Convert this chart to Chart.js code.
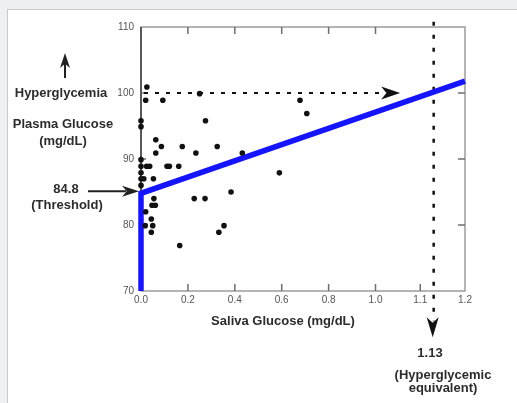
<!DOCTYPE html>
<html>
<head>
<meta charset="utf-8">
<script src="https://cdn.jsdelivr.net/npm/chart.js@4.4.1/dist/chart.umd.min.js"></script>
<style>
  html, body { margin: 0; padding: 0; background: #eff0f2; overflow: hidden; }
  #panel { position: absolute; left: 7px; top: 9px; width: 520px; height: 400px; background: #fff; border: 1px solid #c8c8c8; }
  #wrap { position: absolute; left: 0; top: 0; width: 517px; height: 403px; }
</style>
</head>
<body>
<div id="panel"></div>
<div id="wrap"><canvas id="c" width="517" height="403"></canvas></div>
<script>
// values
var salivaGlucose = [0.025, 0.02, 0.093, 0.25, 0.0, 0.0, 0.275, 0.063, 0.087, 0.176, 0.325,
  0.063, 0.234, 0.432, 0.0, 0.0, 0.024, 0.037, 0.111, 0.121, 0.161, 0.0, 0.0, 0.012, 0.053,
  0.0, 0.055, 0.047, 0.061, 0.227, 0.273, 0.384, 0.02, 0.044, 0.018, 0.05, 0.044, 0.354,
  0.332, 0.165, 0.678, 0.707, 0.59];
var plasmaGlucose = [100.9, 98.9, 98.9, 99.9, 95.8, 94.9, 95.8, 92.9, 91.9, 91.9, 91.9,
  90.9, 90.9, 90.9, 89.9, 88.9, 88.9, 88.9, 88.9, 88.9, 88.9, 87.9, 87.0, 87.0, 87.0,
  86.0, 84.0, 83.0, 83.0, 84.0, 84.0, 85.0, 82.0, 80.9, 79.9, 79.9, 78.9, 79.9,
  78.9, 76.9, 98.9, 96.9, 87.9];
var fitX = [0, 0, 1.2];
var fitY = [70, 84.8, 101.8];
var xTicks = [0, 0.2, 0.4, 0.6, 0.8, 1.0, 1.1, 1.2];
var yTicks = [70, 80, 90, 100, 110];
var threshold = 84.8;
var hyperPlasma = 100;
var hyperSaliva = 1.13;

// the original x axis is stretched past 1.0
var STRETCH = 1.908;
function warp(v) { return v <= 1 ? v : 1 + (v - 1) * STRETCH; }
function unwarp(v) { return v <= 1 ? v : 1 + (v - 1) / STRETCH; }

class WarpScale extends Chart.LinearScale {
  getPixelForValue(v) { return super.getPixelForValue(warp(v)); }
  getValueForPixel(p) { return unwarp(super.getValueForPixel(p)); }
}
WarpScale.id = 'warp';
WarpScale.defaults = Chart.LinearScale.defaults;
Chart.register(WarpScale);

function arrowHead(ctx, tx, ty, dir, len, half) {
  // dir: angle the arrow points to
  var c = Math.cos(dir), s = Math.sin(dir);
  function p(a, b) { return [tx - a * c + b * s, ty - a * s - b * c]; }
  var p1 = p(len, half), p2 = p(len * 0.72, 0), p3 = p(len, -half);
  ctx.beginPath();
  ctx.moveTo(tx, ty);
  ctx.lineTo(p1[0], p1[1]);
  ctx.lineTo(p2[0], p2[1]);
  ctx.lineTo(p3[0], p3[1]);
  ctx.closePath();
  ctx.fill();
}

var decorations = {
  id: 'decorations',
  beforeDatasetsDraw: function(chart) {
    var ctx = chart.ctx, a = chart.chartArea, x = chart.scales.x, y = chart.scales.y;
    ctx.save();
    ctx.lineWidth = 1.5;
    ctx.strokeStyle = '#9c9c9c';
    ctx.strokeRect(a.left, a.top, a.right - a.left, a.bottom - a.top);
    ctx.strokeStyle = '#3a3a3a';
    ctx.beginPath(); ctx.moveTo(a.left, a.top); ctx.lineTo(a.left, a.bottom); ctx.stroke();

    // inward tick marks
    ctx.strokeStyle = '#6e6e6e';
    ctx.beginPath();
    xTicks.forEach(function(v) {
      if (v === 0 || v === 1.2) return;
      var px = x.getPixelForValue(v);
      ctx.moveTo(px, a.bottom); ctx.lineTo(px, a.bottom - 7);
      if (v <= 1.0) { ctx.moveTo(px, a.top); ctx.lineTo(px, a.top + 7); }
    });
    yTicks.forEach(function(v) {
      if (v === 70 || v === 110) return;
      var py = y.getPixelForValue(v);
      ctx.moveTo(a.right, py); ctx.lineTo(a.right - 7, py);
      if (v >= 90) { ctx.moveTo(a.left, py); ctx.lineTo(a.left + 5, py); }
    });
    ctx.stroke();

    // dotted reference lines
    ctx.strokeStyle = '#111';
    ctx.lineWidth = 2;
    var hy = y.getPixelForValue(hyperPlasma);
    var hx1 = x.getPixelForValue(1.055);
    ctx.setLineDash([4, 7]);
    ctx.beginPath(); ctx.moveTo(a.left + 3, hy); ctx.lineTo(hx1 - 16, hy); ctx.stroke();
    var vx = x.getPixelForValue(hyperSaliva);
    var vy1 = y.getPixelForValue(63);
    ctx.lineWidth = 2.5;
    ctx.setLineDash([4, 9]);
    ctx.beginPath(); ctx.moveTo(vx, y.getPixelForValue(110.8)); ctx.lineTo(vx, vy1 - 16); ctx.stroke();
    ctx.setLineDash([]);
    ctx.fillStyle = '#111';
    arrowHead(ctx, hx1, hy, 0, 19, 6.5);
    arrowHead(ctx, vx - 1, vy1, Math.PI / 2, 20, 6);
    ctx.restore();
  },
  afterDraw: function(chart) {
    var ctx = chart.ctx, a = chart.chartArea, y = chart.scales.y;
    ctx.save();
    ctx.fillStyle = '#222';
    ctx.strokeStyle = '#222';
    ctx.lineWidth = 2;
    // up arrow next to Hyperglycemia
    ctx.beginPath(); ctx.moveTo(65, 78); ctx.lineTo(65, 62); ctx.stroke();
    arrowHead(ctx, 65, 53, -Math.PI / 2, 15, 5);
    // threshold arrow
    var ty = y.getPixelForValue(threshold) - 2;
    ctx.beginPath(); ctx.moveTo(88, ty); ctx.lineTo(126, ty); ctx.stroke();
    arrowHead(ctx, a.left - 2, ty, 0, 17, 5.5);

    ctx.fillStyle = '#2c2c2c';
    ctx.font = 'bold 13px "Liberation Sans", Arial, sans-serif';
    ctx.textAlign = 'center';
    ctx.textBaseline = 'middle';
    ctx.fillText('Hyperglycemia', 61, 93);
    ctx.fillText('Plasma Glucose', 63, 124);
    ctx.fillText('(mg/dL)', 63, 141);
    ctx.fillText('84.8', 66, 189);
    ctx.fillText('(Threshold)', 67, 205);
    ctx.fillText('Saliva Glucose (mg/dL)', 283, 321);
    ctx.fillText('1.13', 430, 353);
    ctx.fillText('(Hyperglycemic', 443, 375);
    ctx.fillText('equivalent)', 443, 388);
    ctx.restore();
  }
};

var tickFont = { family: '"Liberation Sans Narrow", "Liberation Sans", Arial, sans-serif', size: 10 };

new Chart(document.getElementById('c'), {
  type: 'scatter',
  data: {
    datasets: [
      {
        label: 'Samples',
        data: salivaGlucose.map(function(v, i) { return { x: v, y: plasmaGlucose[i] }; }),
        pointRadius: 2.8,
        pointBackgroundColor: '#111',
        pointBorderWidth: 0,
        clip: false
      },
      {
        label: 'Fit',
        data: fitX.map(function(v, i) { return { x: v, y: fitY[i] }; }),
        showLine: true,
        pointRadius: 0,
        borderColor: '#1414ff',
        borderWidth: 5.5,
        borderJoinStyle: 'miter',
        borderCapStyle: 'butt',
        clip: false
      }
    ]
  },
  options: {
    responsive: false,
    animation: false,
    events: [],
    layout: { padding: { left: 101, top: 27, right: 52, bottom: 82 } },
    plugins: { legend: { display: false }, tooltip: { enabled: false } },
    scales: {
      x: {
        type: 'warp',
        min: 0,
        max: warp(1.2),
        afterFit: function(s) { s.height = 30; },
        afterBuildTicks: function(s) { s.ticks = xTicks.map(function(v) { return { value: v }; }); },
        grid: { display: false, drawTicks: false },
        border: { display: false },
        ticks: {
          padding: 3, color: '#555', font: tickFont, maxRotation: 0, autoSkip: false,
          callback: function(v) { return v.toFixed(1); }
        }
      },
      y: {
        min: 70,
        max: 110,
        afterFit: function(s) { s.width = 40; },
        afterBuildTicks: function(s) { s.ticks = yTicks.map(function(v) { return { value: v }; }); },
        grid: { display: false, drawTicks: false },
        border: { display: false },
        ticks: { padding: 7, color: '#555', font: tickFont }
      }
    }
  },
  plugins: [decorations]
});
</script>
</body>
</html>
